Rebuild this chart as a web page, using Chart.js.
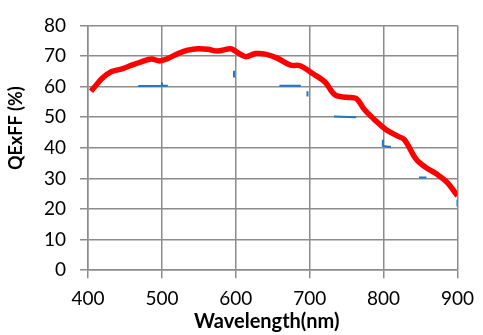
<!DOCTYPE html>
<html>
<head>
<meta charset="utf-8">
<script src="https://cdn.jsdelivr.net/npm/chart.js@4/dist/chart.umd.min.js"></script>
<style>
  html, body { margin: 0; padding: 0; background: #ffffff; }
  #wrap { width: 483px; height: 335px; position: relative; }
</style>
</head>
<body>
<div id="wrap"><canvas id="qe"></canvas></div>
<script>
// Wavelength (nm) and QE x fill factor (%) of the measured curve
const wavelengths = [404, 410, 419, 432, 446, 459, 472, 486, 497, 508, 522, 535, 549, 562, 575, 593, 600,
                     613, 627, 640, 656, 674, 687, 705, 721, 734, 750, 763, 774, 790, 803, 819, 828,
                     844, 857, 872, 886, 900];
const qeff = [58.5, 60.2, 62.7, 64.9, 65.8, 67.0, 68.1, 69.0, 68.4, 69.2, 70.8, 71.9, 72.4, 72.2, 71.6, 72.4, 71.5,
              69.8, 70.8, 70.6, 69.3, 67.0, 66.8, 64.1, 61.4, 57.3, 56.5, 56.1, 52.5, 48.7, 46.0, 43.8, 42.7,
              36.3, 33.6, 31.4, 28.7, 24.3];

// Short blue reference traces (null separates the pieces)
const refX = [468, 500, 500, 500, 508, null, 597.5, 597.5, null, 659, 688, null, 697, 697, null,
              733, 763, null, 799, 799, 810, null, 848, 858, null, 900, 900];
const refY = [60.2, 60.3, 61.3, 60.3, 60.3, null, 63.0, 65.2, null, 60.3, 60.3, null, 56.8, 58.5, null,
              50.2, 50.0, null, 42.6, 40.6, 40.3, null, 30.3, 30.3, null, 20.8, 23.0];

// Axis ticks and titles
const xTicks = [400, 500, 600, 700, 800, 900];
const yTicks = [0, 10, 20, 30, 40, 50, 60, 70, 80];
const xTitle = 'Wavelength(nm)';
const yTitle = 'QExFF (%)';

const mainPoints = wavelengths.map((w, i) => ({ x: w, y: qeff[i] }));
let lastX = refX[0];
const refPoints = refX.map((w, i) => {
  if (w !== null) lastX = w;
  return { x: lastX, y: refY[i] };
});

const FONT = 'Lato, "Open Sans", sans-serif';

// Axis titles drawn relative to the plot area
const axisTitles = {
  id: 'axisTitles',
  afterDraw(chart) {
    const { ctx, chartArea } = chart;
    ctx.save();
    ctx.fillStyle = '#000000';
    ctx.textAlign = 'center';
    ctx.textBaseline = 'alphabetic';
    ctx.font = 'bold 20px ' + FONT;
    ctx.fillText(xTitle, (chartArea.left + chartArea.right) / 2 - 6, chartArea.bottom + 58);
    ctx.font = 'bold 18px ' + FONT;
    ctx.translate(22, chartArea.top + (chartArea.bottom - chartArea.top) * 0.42);
    ctx.rotate(-Math.PI / 2);
    ctx.fillText(yTitle, 0, 0);
    ctx.restore();
  }
};

new Chart(document.getElementById('qe'), {
  type: 'line',
  data: {
    datasets: [
      {
        data: mainPoints,
        borderColor: '#ff0000',
        borderWidth: 5.5,
        pointRadius: 0,
        tension: 0.35,
        fill: false,
        order: 1
      },
      {
        data: refPoints,
        borderColor: '#1f77c4',
        borderWidth: 2,
        pointRadius: 0,
        tension: 0,
        spanGaps: false,
        fill: false,
        order: 2
      }
    ]
  },
  options: {
    responsive: true,
    maintainAspectRatio: false,
    animation: false,
    layout: { padding: { left: 30, right: 24, top: 10, bottom: 16 } },
    plugins: { legend: { display: false }, tooltip: { enabled: false } },
    scales: {
      x: {
        type: 'linear',
        min: xTicks[0],
        max: xTicks[xTicks.length - 1],
        afterBuildTicks(scale) { scale.ticks = xTicks.map(v => ({ value: v })); },
        grid: { color: '#8c8c8c', lineWidth: 1.5, tickLength: 8 },
        border: { color: '#8c8c8c', width: 1.5 },
        ticks: { color: '#000000', font: { family: FONT, size: 19 }, padding: 9, maxRotation: 0 }
      },
      y: {
        min: yTicks[0],
        max: yTicks[yTicks.length - 1],
        afterBuildTicks(scale) { scale.ticks = yTicks.map(v => ({ value: v })); },
        grid: { color: '#8c8c8c', lineWidth: 1.5, tickLength: 8 },
        border: { color: '#8c8c8c', width: 1.5 },
        ticks: { color: '#000000', font: { family: FONT, size: 19 }, padding: 14 }
      }
    }
  },
  plugins: [axisTitles]
});
</script>
</body>
</html>
